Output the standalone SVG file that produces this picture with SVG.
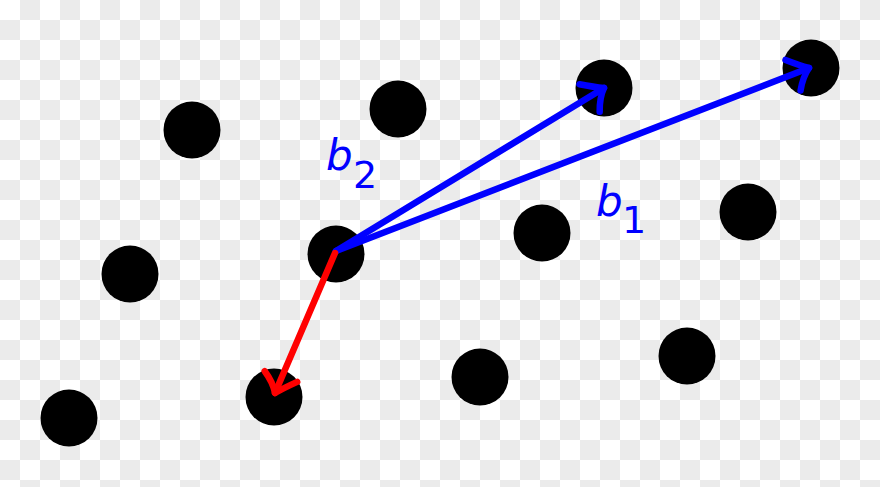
<svg xmlns="http://www.w3.org/2000/svg" width="880" height="487" viewBox="0 0 880 487">
  <defs>
    <pattern id="checker" x="0" y="0" width="40" height="40" patternUnits="userSpaceOnUse">
      <rect width="40" height="40" fill="#ffffff"/>
      <rect x="20" y="0" width="20" height="20" fill="#ebebeb"/>
      <rect x="0" y="20" width="20" height="20" fill="#ebebeb"/>
    </pattern>
    <marker id="headBlue" markerUnits="userSpaceOnUse" markerWidth="40" markerHeight="40" refX="0" refY="0" orient="auto" overflow="visible">
      <path d="M -19 -16 Q -8 -6 0 0 Q -9 6 -16 18" fill="none" stroke="#0000ff" stroke-width="6.5" stroke-linecap="round" stroke-linejoin="round"/>
    </marker>
    <marker id="headRed" markerUnits="userSpaceOnUse" markerWidth="40" markerHeight="40" refX="0" refY="0" orient="auto" overflow="visible">
      <path d="M -19 -16 Q -8 -6 0 0 Q -9 6 -16 18" fill="none" stroke="#ff0000" stroke-width="6.5" stroke-linecap="round" stroke-linejoin="round"/>
    </marker>
  </defs>
  <style>
    .dot { fill: #000000; }
    .vec { fill: none; stroke-width: 6.5; stroke-linecap: round; }
    .blue { stroke: #0000ff; }
    .red { stroke: #ff0000; }
    .lbl { font-family: "DejaVu Sans", sans-serif; fill: #0000ff; }
    .var { font-style: italic; font-size: 42px; }
    .sub { font-size: 38px; }
  </style>
  <rect width="880" height="487" fill="url(#checker)"/>
  <g id="points">
    <g id="p1"><circle class="dot" cx="192" cy="130" r="28.5"/></g>
    <g id="p2"><circle class="dot" cx="398" cy="109" r="28.5"/></g>
    <g id="p3"><circle class="dot" cx="604" cy="88" r="28.5"/></g>
    <g id="p4"><circle class="dot" cx="811" cy="68" r="28.5"/></g>
    <g id="p5"><circle class="dot" cx="130" cy="274" r="28.5"/></g>
    <g id="p6"><circle class="dot" cx="336" cy="254" r="28.5"/></g>
    <g id="p7"><circle class="dot" cx="542" cy="233" r="28.5"/></g>
    <g id="p8"><circle class="dot" cx="748" cy="212" r="28.5"/></g>
    <g id="p9"><circle class="dot" cx="69" cy="418" r="28.5"/></g>
    <g id="p10"><circle class="dot" cx="274" cy="397" r="28.5"/></g>
    <g id="p11"><circle class="dot" cx="480" cy="377" r="28.5"/></g>
    <g id="p12"><circle class="dot" cx="687" cy="356" r="28.5"/></g>
  </g>
  <g id="connectors">
    <line class="vec blue" x1="336" y1="251" x2="604" y2="88" marker-end="url(#headBlue)"/>
    <line class="vec blue" x1="336" y1="251" x2="809" y2="68" marker-end="url(#headBlue)"/>
    <line class="vec red" x1="335" y1="253" x2="275" y2="393" marker-end="url(#headRed)"/>
  </g>
  <g id="label-b2">
    <text class="lbl"><tspan class="var" x="326" y="170">b</tspan><tspan class="sub" x="353" y="188">2</tspan></text>
  </g>
  <g id="label-b1">
    <text class="lbl"><tspan class="var" x="596" y="216">b</tspan><tspan class="sub" x="622" y="233">1</tspan></text>
  </g>
</svg>
